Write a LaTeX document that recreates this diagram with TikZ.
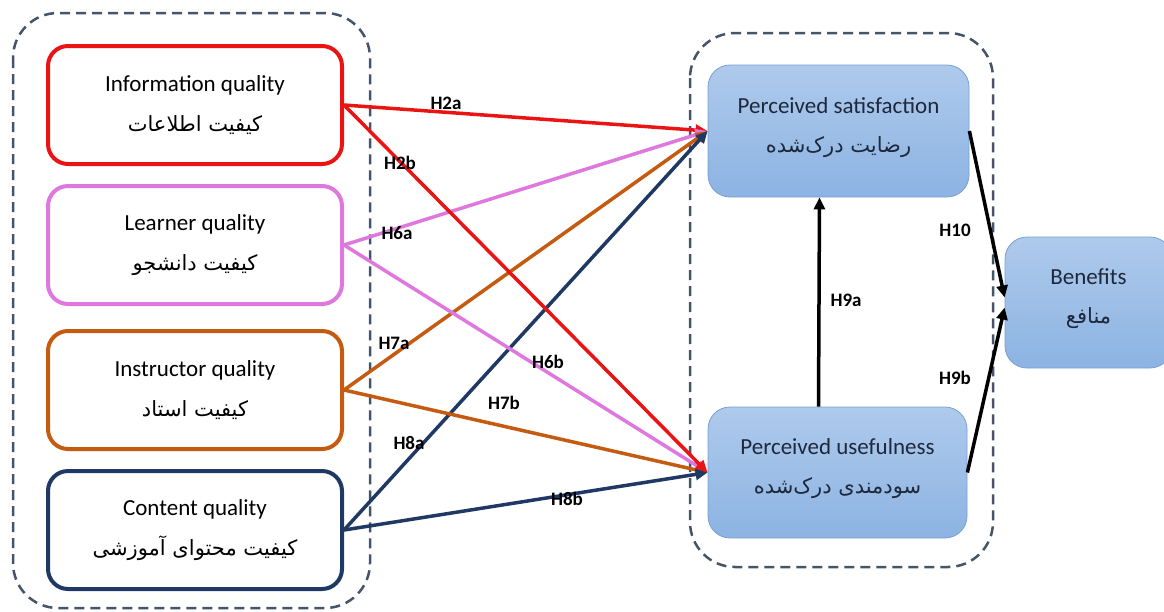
\documentclass[tikz,border=0pt]{standalone}
\usepackage{fontspec}
\setmainfont{Carlito}
\newfontfamily\fafont[Script=Arabic]{DejaVu Sans}
\TeXXeTstate=1
\usepackage{tikz}
\usetikzlibrary{arrows.meta}
\definecolor{infored}{RGB}{235,20,20}
\definecolor{learnpink}{RGB}{222,120,222}
\definecolor{instrbrown}{RGB}{197,90,17}
\definecolor{contnavy}{RGB}{31,56,100}
\definecolor{grpgray}{RGB}{68,84,106}
\definecolor{boxtop}{RGB}{174,202,236}
\definecolor{boxbot}{RGB}{140,179,226}
\definecolor{boxline}{RGB}{120,160,210}
\definecolor{boxtext}{RGB}{30,40,60}
\newcommand{\fa}[1]{{\fontsize{21}{24}\fafont\beginR #1\endR}}

\begin{document}
\begin{tikzpicture}[x=1pt,y=-1pt]
\tikzstyle{every node}=[font=\fontsize{23}{27}\selectfont]
\tikzstyle{qbox}=[draw,line width=4pt,rounded corners=20pt,fill=white,minimum width=294pt,minimum height=118pt,align=center,text=black]
\tikzstyle{bluebox}=[draw=boxline,line width=0.8pt,rounded corners=22pt,top color=boxtop,bottom color=boxbot,align=center,text=boxtext,text depth=12pt]
\tikzstyle{grp}=[draw=grpgray,line width=2.5pt,dash pattern=on 10pt off 6pt,rounded corners=45pt]
\tikzstyle{hyp}=[font=\fontsize{19}{22}\selectfont\bfseries]
\tikzstyle{link}=[line width=3.5pt,-{Triangle[length=12pt,width=11pt]}]
\useasboundingbox (0,0) rectangle (1164,611);
\draw[grp] (13,13) rectangle (370,608);
\draw[grp] (690,33) rectangle (993,567);
\node[qbox,draw=infored] (iq) at (195,105) {Information quality\\[13pt]\fa{کیفیت اطلاعات}};
\node[qbox,draw=learnpink] (lq) at (195,245) {Learner quality\\[13pt]\fa{کیفیت دانشجو}};
\node[qbox,draw=instrbrown] (inq) at (195,390) {Instructor quality\\[13pt]\fa{کیفیت استاد}};
\node[qbox,draw=contnavy] (cq) at (195,530) {Content quality\\[13pt]\fa{کیفیت محتوای آموزشی}};
\node[bluebox,minimum width=261pt,minimum height=132pt] (ps) at (838.5,131) {Perceived satisfaction\\[12pt]\fa{رضایت درک‌شده}};
\node[bluebox,minimum width=259pt,minimum height=131pt] (pu) at (837.5,472.5) {Perceived usefulness\\[12pt]\fa{سودمندی درک‌شده}};
\node[bluebox,minimum width=167pt,minimum height=131pt] (ben) at (1088.5,302.5) {Benefits\\[12pt]\fa{منافع}};
\draw[link,infored] (iq.east) -- (ps.west);
\draw[link,learnpink] (lq.east) -- (ps.west);
\draw[link,instrbrown] (inq.east) -- (ps.west);
\draw[link,contnavy] (cq.east) -- (ps.west);
\draw[link,learnpink] (lq.east) -- (pu.west);
\draw[link,instrbrown] (inq.east) -- (pu.west);
\draw[link,infored] (iq.east) -- (pu.west);
\draw[link,contnavy] (cq.east) -- (pu.west);
\draw[link,black,line width=3.5pt] ([xshift=-19pt]pu.north) -- ([xshift=-19pt]ps.south);
\draw[link,black] (ps.east) -- ([yshift=5pt]ben.west);
\draw[link,black] (pu.east) -- ([yshift=-5pt]ben.west);
\node[hyp] (h2a) at (446,103) {H2a};
\node[hyp] (h2b) at (400,163) {H2b};
\node[hyp] (h6a) at (397,233) {H6a};
\node[hyp] (h7a) at (394,343) {H7a};
\node[hyp] (h6b) at (548,362) {H6b};
\node[hyp] (h7b) at (504,403) {H7b};
\node[hyp] (h8a) at (409,443) {H8a};
\node[hyp] (h8b) at (567,499) {H8b};
\node[hyp] (h9a) at (846,300) {H9a};
\node[hyp] (h10) at (955,230) {H10};
\node[hyp] (h9b) at (955,378) {H9b};
\end{tikzpicture}
\end{document}
